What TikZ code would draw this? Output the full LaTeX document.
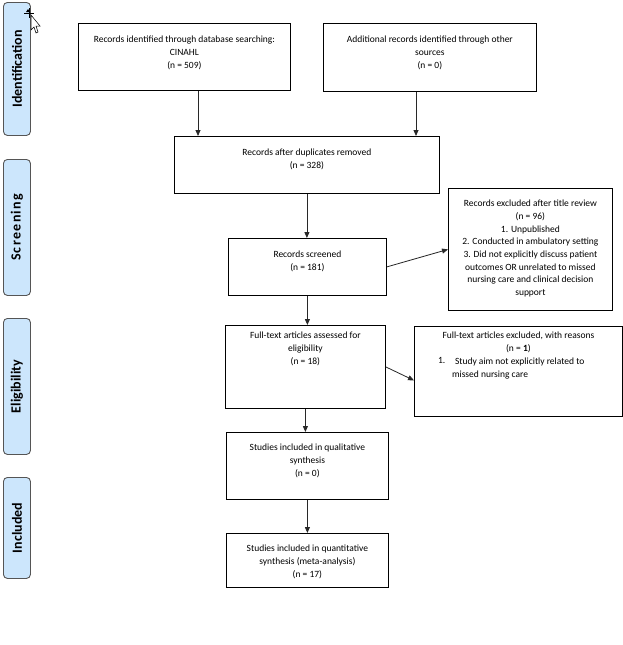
\documentclass[tikz,border=0pt]{standalone}
\usepackage{fontspec}
\setmainfont{Carlito}
\usetikzlibrary{arrows.meta}
\definecolor{phase}{RGB}{204,230,252}
\definecolor{phaseline}{RGB}{85,85,85}
\definecolor{conn}{RGB}{40,40,40}
\newcommand{\lsk}{\kern1.3pt}
\begin{document}
\begin{tikzpicture}[x=1pt,y=-1pt,
  box/.style={draw=black,line width=0.8pt,inner sep=0pt,anchor=north west},
  lbl/.style={anchor=north,align=center,font=\fontsize{9.5}{12.7}\selectfont,inner sep=0pt},
  phasebox/.style={draw=phaseline,fill=phase,line width=0.9pt,rounded corners=4pt,inner sep=0pt,anchor=north west,minimum width=27pt},
  phasetext/.style={rotate=90,font=\fontsize{14}{15}\selectfont\bfseries,inner sep=0pt},
  arr/.style={draw=conn,line width=0.8pt,-{Triangle[length=6pt,width=5pt]}}]
\useasboundingbox (0,0) rectangle (623,645);
\fill[white] (0,0) rectangle (623,645);
% phase labels
\node[phasebox,minimum height=133pt] (p1) at (3,2) {};
\node[phasetext] (t1) at (p1.center) {Identification};
\node[phasebox,minimum height=136pt] (p2) at (3,159) {};
\node[phasetext] (t2) at (p2.center) {S\lsk c\lsk r\lsk e\lsk e\lsk n\lsk i\lsk n\lsk g};
\node[phasebox,minimum height=136pt] (p3) at (3,318) {};
\node[phasetext] (t3) at (p3.center) {Eligibility};
\node[phasebox,minimum height=101pt] (p4) at (3,477) {};
\node[phasetext] (t4) at (p4.center) {Included};
% cursor artefact
\fill[black] (28,9) -- (26,12) -- (30,12) -- cycle;
\draw[black,line width=0.6pt] (24,13) -- (34,13) (29,8) -- (29,18);
\filldraw[fill=white,draw=black,line width=0.5pt] (31,15) -- (31,30) -- (34,27) -- (36,33) -- (38,32) -- (36,26) -- (40,26) -- cycle;
% boxes
\node[box,minimum width=212pt,minimum height=67pt] (b1) at (78,23) {};
\node[lbl] (l1) at ([yshift=-13pt]b1.north) {Records identified through database searching:\\CINAHL\\(n = 509)};
\node[box,minimum width=213pt,minimum height=68pt] (b2) at (323,23) {};
\node[lbl] (l2) at ([yshift=-13pt]b2.north) {Additional records identified through other\\sources\\(n = 0)};
\node[box,minimum width=265pt,minimum height=57pt] (b3) at (174,136) {};
\node[lbl] (l3) at ([yshift=-13pt]b3.north) {Records after duplicates removed\\(n = 328)};
\node[box,minimum width=158pt,minimum height=57pt] (b4) at (228,238) {};
\node[lbl] (l4) at ([yshift=-13pt]b4.north) {Records screened\\(n = 181)};
\node[box,minimum width=164pt,minimum height=122pt] (b5) at (448,188) {};
\node[lbl] (l5) at ([yshift=-12pt]b5.north) {Records excluded after title review\\(n = 96)\\1. Unpublished\\2. Conducted in ambulatory setting\\3. Did not explicitly discuss patient\\outcomes OR unrelated to missed\\nursing care and clinical decision\\support};
\node[box,minimum width=160pt,minimum height=83pt] (b6) at (225,325) {};
\node[lbl] (l6) at ([yshift=-7pt]b6.north) {Full-text articles assessed for\\eligibility\\(n = 18)};
\node[box,minimum width=208pt,minimum height=90pt] (b7) at (414,326) {};
\node[lbl] (l7) at ([yshift=-6pt]b7.north) {Full-text articles excluded, with reasons\\(n = \textbf{1})};
\node[lbl,anchor=north west] (l7n) at ([xshift=-185pt,yshift=-31.5pt]b7.north east) {1.};
\node[lbl,anchor=north west,align=left] (l7t) at ([xshift=-171pt,yshift=-31.5pt]b7.north east) {\hspace*{3pt}Study aim not explicitly related to\\missed nursing care};
\node[box,minimum width=162pt,minimum height=67pt] (b8) at (226,432) {};
\node[lbl] (l8) at ([yshift=-12pt]b8.north) {Studies included in qualitative\\synthesis\\(n = 0)};
\node[box,minimum width=162pt,minimum height=54pt] (b9) at (226,533) {};
\node[lbl] (l9) at ([yshift=-12pt]b9.north) {Studies included in quantitative\\synthesis (meta-analysis)\\(n = 17)};
% connectors
\draw[arr] ([xshift=120pt]b1.south west) -- ([xshift=120pt]b1.south west |- b3.north);
\draw[arr] ([xshift=93pt]b2.south west) -- ([xshift=93pt]b2.south west |- b3.north);
\draw[arr] (b3.south) -- (b3.south |- b4.north);
\draw[arr] (b4.east) -- (b5.west);
\draw[arr] (b4.south) -- (b4.south |- b6.north);
\draw[arr] (b6.east) -- ([yshift=-9pt]b7.west);
\draw[arr] (b6.south) -- (b6.south |- b8.north);
\draw[arr] (b8.south) -- (b8.south |- b9.north);
\end{tikzpicture}
\end{document}
